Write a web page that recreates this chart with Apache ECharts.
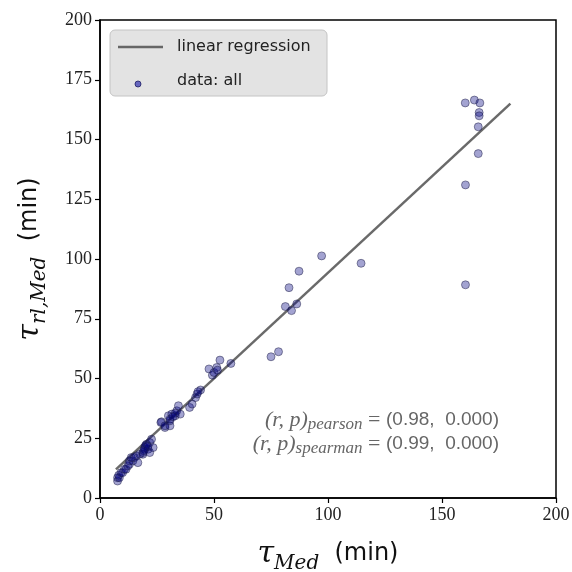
<!DOCTYPE html>
<html>
<head>
<meta charset="utf-8">
<script src="https://cdn.jsdelivr.net/npm/echarts@6/dist/echarts.min.js"></script>
<style>html,body{margin:0;padding:0;background:#fff;}#c{width:572px;height:572px;}</style>
</head>
<body>
<div id="c"></div>
<script>
// tau_Med (min) vs tau_rl,Med (min)
const pointsX = [7.7,7.7,8.5,8.2,9.2,9.9,10.7,11.4,12.2,12.9,12.9,14.4,13.7,15.1,15.9,16.6,17.4,18.8,18.8,19.6,21.1,21.8,19.6,20.4,21.8,22.6,23.3,20.0,21.0,19.2,
  27.0,26.7,28.5,28.5,30.7,30.7,30.0,30.7,31.5,33.0,33.7,34.4,35.2,33.0,32.0,39.3,40.4,41.9,42.6,44.1,43.0,
  47.8,49.3,50.0,51.2,51.5,52.6,57.4,
  75.0,78.3,81.3,84.0,86.3,82.9,87.3,97.2,114.5,
  160.2,164.2,166.6,166.3,166.3,165.9,165.9,160.3,160.3];
const pointsY = [7.1,8.5,8.5,9.5,10.6,10.6,12.0,12.0,13.4,14.1,15.5,15.5,16.9,16.9,17.6,14.8,18.3,18.3,19.0,20.4,20.4,19.0,21.1,22.5,23.2,24.6,21.1,22.0,21.5,19.8,
  31.9,31.6,29.5,30.2,30.2,32.3,34.4,33.0,35.1,34.4,36.5,38.6,35.1,35.5,34.0,37.9,39.3,42.0,43.5,45.2,44.5,
  54.0,51.4,52.5,54.6,53.5,57.7,56.3,
  59.1,61.2,80.1,78.4,81.2,88.0,94.9,101.3,98.2,
  165.3,166.5,165.3,161.3,159.9,155.3,144.1,131.0,89.2];
const fitX = [7, 180];
const fitY = [12.0, 165];
const xTicks = [0, 50, 100, 150, 200];
const yTicks = [0, 25, 50, 75, 100, 125, 150, 175, 200];
const pearson = ['0.98', '0.000'];
const spearman = ['0.99', '0.000'];

const scatterData = pointsX.map((x, i) => [x, pointsY[i]]);
const fitData = fitX.map((x, i) => [x, fitY[i]]);

const chart = echarts.init(document.getElementById('c'), null, {renderer: 'canvas'});
const tickFont = {fontFamily: 'Liberation Serif', fontSize: 18, color: '#222'};
const nameRich = {
  t: {fontFamily: 'DejaVu Serif', fontStyle: 'italic', fontSize: 30, lineHeight: 40, color: '#111'},
  s: {fontFamily: 'DejaVu Serif', fontStyle: 'italic', fontSize: 20, lineHeight: 24, verticalAlign: 'bottom', color: '#111'},
  u: {fontFamily: 'DejaVu Sans', fontSize: 24, lineHeight: 40, color: '#111'}
};
const annRich = {
  a: {fontFamily: 'Liberation Serif', fontStyle: 'italic', fontSize: 22, lineHeight: 26, fill: '#666'},
  b: {fontFamily: 'Liberation Serif', fontStyle: 'italic', fontSize: 17, lineHeight: 17, verticalAlign: 'bottom', fill: '#666'},
  c: {fontFamily: 'Liberation Serif', fontSize: 22, lineHeight: 26, fill: '#666'},
  d: {fontFamily: 'Liberation Sans', fontSize: 19, lineHeight: 26, fill: '#666'}
};
const option = {
  animation: false,
  backgroundColor: '#fff',
  grid: {left: 100, top: 20, width: 456, height: 478, containLabel: false, outerBoundsMode: 'none',
         show: true, borderColor: '#000', borderWidth: 1.5, backgroundColor: 'transparent'},
  xAxis: {
    type: 'value', min: xTicks[0], max: xTicks[xTicks.length - 1], interval: 50,
    axisLine: {show: true, lineStyle: {color: '#000', width: 1.5}},
    axisTick: {show: true, inside: false, length: 5, lineStyle: {color: '#000', width: 1.2}},
    axisLabel: Object.assign({margin: 8}, tickFont),
    splitLine: {show: false},
    name: '{t|τ}{s|Med}{u|  (min)}',
    nameLocation: 'middle', nameGap: 36,
    nameTextStyle: {color: '#111', rich: nameRich}
  },
  yAxis: {
    type: 'value', min: yTicks[0], max: yTicks[yTicks.length - 1], interval: 25,
    axisLine: {show: true, lineStyle: {color: '#000', width: 1.5}},
    axisTick: {show: true, inside: false, length: 5, lineStyle: {color: '#000', width: 1.2}},
    axisLabel: Object.assign({margin: 8}, tickFont),
    splitLine: {show: false},
    name: '{t|τ}{s|rl,Med}{u|  (min)}',
    nameLocation: 'middle', nameGap: 50,
    nameTextStyle: {color: '#111', rich: nameRich}
  },
  series: [
    {
      name: 'linear regression', type: 'line', data: fitData, showSymbol: false, symbol: 'none',
      lineStyle: {color: '#6a6a6a', width: 2.5}, z: 3, silent: true
    },
    {
      name: 'data: all', type: 'scatter', data: scatterData, symbolSize: 8,
      itemStyle: {color: 'rgba(0,0,128,0.45)', borderColor: 'rgba(30,30,70,0.6)', borderWidth: 1}, z: 4
    }
  ],
  graphic: [
    {type: 'rect', shape: {x: 110, y: 30, width: 217, height: 66, r: 5}, style: {fill: 'rgba(222,222,222,0.85)', stroke: '#c4c4c4', lineWidth: 1}, z: 10},
    {type: 'line', shape: {x1: 118, y1: 47, x2: 163, y2: 47}, style: {stroke: '#666', lineWidth: 2.5}, z: 11},
    {type: 'text', x: 177, y: 47, style: {text: 'linear regression', fontFamily: 'DejaVu Sans', fontSize: 16, fill: '#222', verticalAlign: 'middle'}, z: 11},
    {type: 'circle', shape: {cx: 138, cy: 84, r: 3}, style: {fill: 'rgba(70,70,180,0.8)', stroke: 'rgba(30,30,100,0.8)', lineWidth: 1}, z: 11},
    {type: 'text', x: 177, y: 81, style: {text: 'data: all', fontFamily: 'DejaVu Sans', fontSize: 16, fill: '#222', verticalAlign: 'middle'}, z: 11},
    {type: 'text', x: 499, y: 420, z: 11, style: {
      text: '{a|(r, p)}{b|pearson}{c| = }{d|(' + pearson[0] + ',  ' + pearson[1] + ')}',
      align: 'right', verticalAlign: 'middle', rich: annRich
    }},
    {type: 'text', x: 499, y: 444, z: 11, style: {
      text: '{a|(r, p)}{b|spearman}{c| = }{d|(' + spearman[0] + ',  ' + spearman[1] + ')}',
      align: 'right', verticalAlign: 'middle', rich: annRich
    }}
  ]
};
chart.setOption(option);
</script>
</body>
</html>
